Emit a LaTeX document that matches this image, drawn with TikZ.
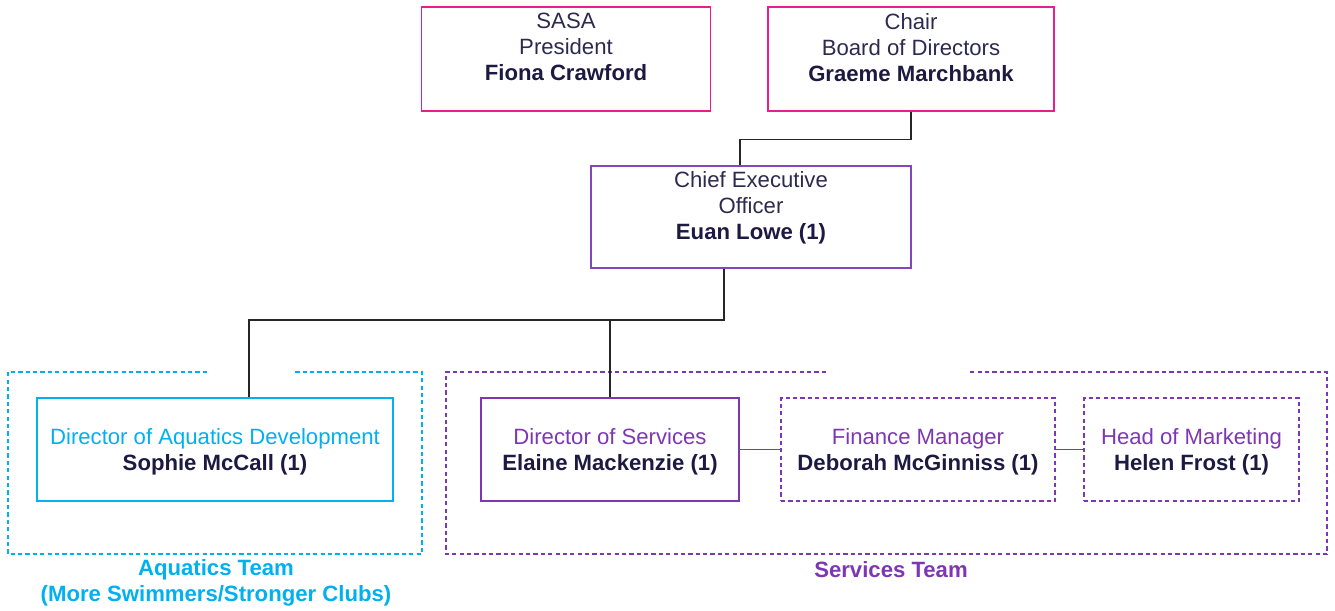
\documentclass[tikz,border=0pt]{standalone}
\usepackage{fontspec}
\setmainfont{Liberation Sans}
\usetikzlibrary{positioning,calc}

\definecolor{boardPink}{RGB}{232,30,140}
\definecolor{execPurple}{RGB}{130,70,190}
\definecolor{servPurple}{RGB}{125,55,180}
\definecolor{aquaBlue}{RGB}{0,176,240}
\definecolor{nameNavy}{RGB}{30,25,65}
\definecolor{roleInk}{RGB}{45,42,80}

\newcommand{\staffName}[1]{\textcolor{nameNavy}{\bfseries #1}}
\newcommand{\padLine}{\\[-5.6pt]\strut}

\begin{document}
\begin{tikzpicture}[
        x=0.02cm, y=-0.02cm,
        every node/.style={font=\fontsize{12.6}{14.74}\selectfont},
        roleBox/.style={
            draw,
            line width=0.7pt,
            align=center,
            inner sep=1pt,
            text=roleInk
        },
        boardBox/.style={
            roleBox,
            draw=boardPink,
            minimum width=5.78cm,
            minimum height=2.08cm
        },
        execBox/.style={
            roleBox,
            draw=execPurple,
            minimum width=6.4cm,
            minimum height=2.04cm
        },
        aquaBox/.style={
            roleBox,
            draw=aquaBlue,
            text=aquaBlue,
            text depth=0pt,
            minimum height=2.06cm
        },
        servBox/.style={
            roleBox,
            draw=servPurple,
            text=servPurple,
            text depth=0pt,
            minimum height=2.06cm
        },
        vacantBox/.style={
            servBox,
            dash pattern=on 2.4pt off 1.8pt
        },
        teamFrame/.style={
            line width=0.7pt,
            dash pattern=on 2.4pt off 1.8pt
        },
        teamLabel/.style={
            align=center,
            font=\fontsize{12.6}{14.74}\selectfont\bfseries
        },
        link/.style={
            draw=black!85,
            line width=0.6pt
        },
        servLink/.style={
            draw=servPurple,
            line width=0.6pt
        }
    ]

        \useasboundingbox (0,0) rectangle (1335,610);

        % Board
        \node[boardBox] (president) at (566,59)
            {SASA\\President\\\staffName{Fiona Crawford}\padLine};
        \node[boardBox, minimum width=5.72cm] (chair) at (911,59)
            {Chair\\Board of Directors\\\staffName{Graeme Marchbank}\padLine};

        % Chief executive
        \node[execBox] (ceo) at (751,217)
            {Chief Executive\\Officer\\\staffName{Euan Lowe (1)}\padLine};

        % Team frames, open at the top
        \draw[teamFrame, draw=aquaBlue]
            (207,372) -- (8,372) -- (8,554) -- (422,554) -- (422,372) -- (293,372);
        \draw[teamFrame, draw=servPurple]
            (826,372) -- (446,372) -- (446,554) -- (1327,554) -- (1327,372) -- (968,372);

        % Directors and managers
        \node[aquaBox, minimum width=7.12cm] (aquaDir) at (215,449.5)
            {Director of Aquatics Development\\\staffName{Sophie McCall (1)}};
        \node[servBox, minimum width=5.16cm] (servDir) at (610,449.5)
            {Director of Services\\\staffName{Elaine Mackenzie (1)}};
        \node[vacantBox, minimum width=5.48cm] (finance) at (918,449.5)
            {Finance Manager\\\staffName{Deborah McGinniss (1)}};
        \node[vacantBox, minimum width=4.3cm] (marketing) at (1191.5,449.5)
            {Head of Marketing\\\staffName{Helen Frost (1)}};

        % Reporting lines
        \coordinate (bus) at (724,320);
        \draw[link] (chair.south) -- ++(0,28) -| ([xshift=-0.22cm]ceo.north);
        \draw[link] (bus |- ceo.south) -- (bus) -| ([xshift=0.68cm]aquaDir.north);
        \draw[link] (servDir.north) |- (bus);
        \draw[servLink] (servDir.east) -- (finance.west);
        \draw[servLink] (finance.east) -- (marketing.west);

        % Team names
        \node[teamLabel, text=aquaBlue] (aquaTeam) at (216,583)
            {Aquatics Team\\(More Swimmers/Stronger Clubs)};
        \node[teamLabel, text=servPurple] (servTeam) at (891,570)
            {Services Team};

    \end{tikzpicture}
\end{document}
